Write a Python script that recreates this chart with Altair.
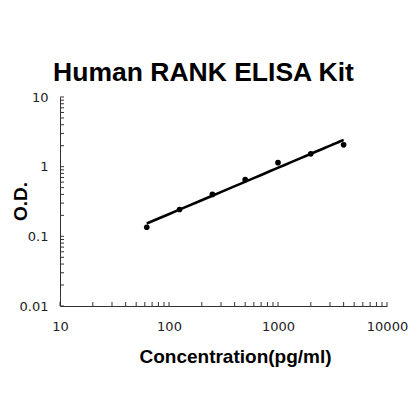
import altair as alt
import pandas as pd

# Data
conc = [62.5, 125, 250, 500, 1000, 2000, 4000]
od = [0.135, 0.243, 0.40, 0.65, 1.14, 1.53, 2.06]

x_ticks = [m * d for d in [10, 100, 1000] for m in range(1, 10)] + [10000]
y_ticks = [round(m * d, 4) for d in [0.01, 0.1, 1] for m in range(1, 10)] + [10]

df = pd.DataFrame({"conc": conc, "od": od})
dfx = pd.DataFrame({"conc": x_ticks})
dfy = pd.DataFrame({"od": y_ticks})

W, H = 327, 209
FONT = "Liberation Sans"
LABEL_FONT = "DejaVu Sans"

xscale = alt.Scale(type="log", domain=[10, 10000], nice=False)
yscale = alt.Scale(type="log", domain=[0.01, 10], nice=False)

xaxis = alt.Axis(
    title="Concentration(pg/ml)", values=[10, 100, 1000, 10000], format="d",
    ticks=False, grid=False, labelPadding=14, labelFontSize=13,
    labelFont=LABEL_FONT, labelColor="#222", domainColor="#333",
    titleFont=FONT, titleFontSize=19, titleFontWeight="bold",
    titlePadding=14, titleColor="#000", titleX=175, labelFlush=False,
)
yaxis = alt.Axis(
    title="O.D.", values=[0.01, 0.1, 1, 10], labelExpr="format(datum.value, '~g')",
    ticks=False, grid=False, labelPadding=12, labelFontSize=13,
    labelFont=LABEL_FONT, labelColor="#222", domainColor="#333",
    titleFont=FONT, titleFontSize=19, titleFontWeight="bold",
    titleX=-40, titleY=104, titleAngle=-90, titleAlign="center",
    titleBaseline="middle", titleColor="#000", labelFlush=False,
)

X = alt.X("conc:Q", scale=xscale, axis=xaxis)
Y = alt.Y("od:Q", scale=yscale, axis=yaxis)

points = alt.Chart(df).mark_circle(size=32, color="#000", opacity=1).encode(x=X, y=Y)
fit = (
    alt.Chart(df)
    .transform_regression("conc", "od", method="pow")
    .mark_line(color="#000", strokeWidth=2.6)
    .encode(x=X, y=Y)
)
xt = alt.Chart(dfx).mark_rule(color="#333", strokeWidth=1).encode(
    x=X, y=alt.value(H), y2=alt.value(H - 4)
)
yt = alt.Chart(dfy).mark_rule(color="#333", strokeWidth=1).encode(
    y=Y, x=alt.value(0), x2=alt.value(4)
)

chart = (
    alt.layer(xt, yt, fit, points)
    .properties(
        width=W, height=H,
        title=alt.TitleParams(
            "Human RANK ELISA Kit", font=FONT, fontSize=26.5, fontWeight="bold",
            color="#000", anchor="middle", dx=-20, offset=5,
        ),
        autosize=alt.AutoSizeParams(type="none"),
        padding={"left": 52, "top": 89, "right": 25, "bottom": 100},
    )
    .configure_view(stroke=None)
)

chart.save("out.html", embed_options={"renderer": "svg", "actions": False})
